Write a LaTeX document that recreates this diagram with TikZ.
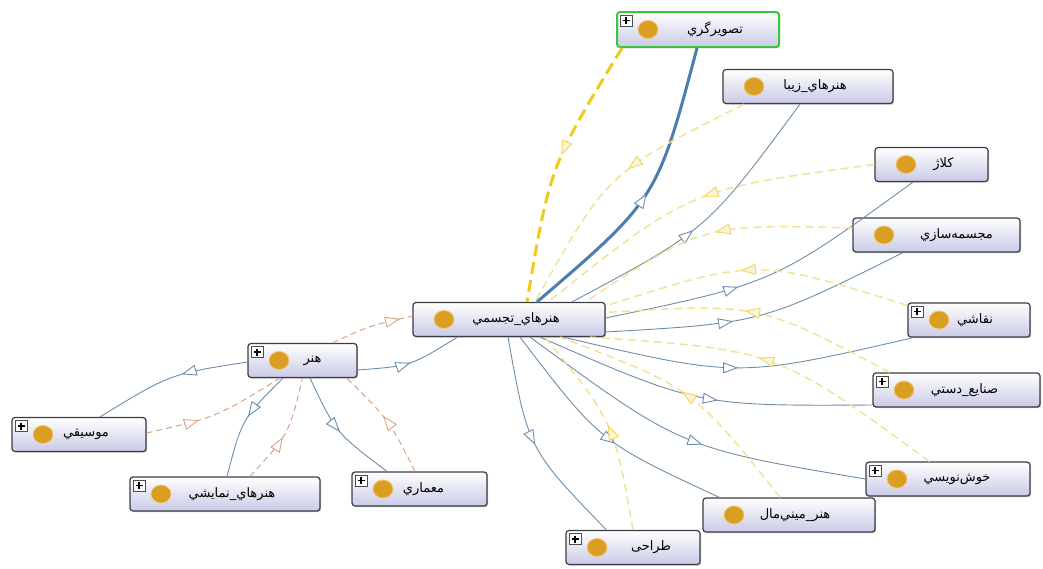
\documentclass[tikz,border=0pt]{standalone}
\usepackage{fontspec}
\newfontfamily\arabicfont[Script=Arabic]{DejaVu Sans}
\TeXXeTstate=1
\usetikzlibrary{arrows.meta}
\usetikzlibrary{calc}
\usetikzlibrary{decorations.markings}
\usetikzlibrary{shadows}

\definecolor{boxline}{HTML}{3C3C46}
\definecolor{boxfill}{HTML}{C9CAE6}
\definecolor{dotfill}{HTML}{D99E22}
\definecolor{dotline}{HTML}{F0C878}
\definecolor{selgreen}{HTML}{3DC43D}
\definecolor{subline}{HTML}{6C8DAA}
\definecolor{subthick}{HTML}{4B7DAD}
\definecolor{relline}{HTML}{F0E393}
\definecolor{relthick}{HTML}{ECCB1C}
\definecolor{hasline}{HTML}{D8A386}

\newcommand{\clsdot}{\fill[dotfill, draw=dotline, line width=0.8pt] ($(path picture bounding box.west)+(31,0)$) ellipse (10pt and 9pt);}
\newcommand{\clsplus}{%
  \draw[black!70, fill=white, line width=0.6pt, sharp corners] ($(path picture bounding box.north west)+(3,3)$) rectangle ++(12,11);
  \draw[black, line width=1.1pt, sharp corners] ($(path picture bounding box.north west)+(5.5,8.5)$) -- ++(7,0) ($(path picture bounding box.north west)+(9,5)$) -- ++(0,7);}

\tikzset{
  cls/.style={draw=boxline, line width=1.2pt, rounded corners=3pt, top color=white, bottom color=boxfill,
    minimum height=34pt, inner sep=0pt, font=\arabicfont\fontsize{13}{15}\selectfont,
    drop shadow={shadow xshift=1.2pt, shadow yshift=-1.2pt, opacity=0.45}, path picture={\clsdot}},
  clsplus/.style={cls, path picture={\clsdot\clsplus}},
  subarc/.style={draw=subline, line width=0.9pt, postaction={decorate},
    decoration={markings, mark=at position #1 with {\arrow[subline, solid, line width=0.9pt]{Triangle[length=15pt, width=11pt, fill=white]}}}},
  subarc/.default=0.5,
  subbold/.style={subarc=#1, draw=subthick, line width=3pt},
  relarc/.style={draw=relline, line width=1.5pt, dash pattern=on 8pt off 5pt, postaction={decorate},
    decoration={markings, mark=at position #1 with {\arrow[relthick!75, solid, line width=0.9pt]{Triangle[length=15pt, width=11pt, fill=relline!35]}}}},
  relarc/.default=0.5,
  relbold/.style={relarc=#1, draw=relthick, line width=3pt, dash pattern=on 12pt off 6pt},
  hasarc/.style={draw=hasline, line width=1pt, dash pattern=on 6pt off 4pt, postaction={decorate},
    decoration={markings, mark=at position #1 with {\arrow[hasline, solid, line width=0.9pt]{Triangle[length=15pt, width=11pt, fill=white]}}}},
  hasarc/.default=0.5
}

\begin{document}
\begin{tikzpicture}[x=1pt, y=-1pt]
        \useasboundingbox (0,0) rectangle (1043,568);
        \node[clsplus, draw=selgreen, line width=2pt, minimum width=162pt, minimum height=35pt] (tasvir) at (698,29.5) {\hspace*{34pt}\beginR تصويرگري\endR};
        \node[cls, minimum width=170pt] (ziba) at (808,86.5) {\hspace*{14pt}\beginR هنرهاي\_زيبا\endR};
        \node[cls, minimum width=113pt] (kolaj) at (931.5,164.5) {\hspace*{24pt}\beginR كلاژ\endR};
        \node[cls, minimum width=167pt] (mojasame) at (936.5,235) {\hspace*{40pt}\beginR مجسمه^^^^200cسازي\endR};
        \node[clsplus, minimum width=122pt] (naghashi) at (969,320) {\hspace*{12pt}\beginR نقاشي\endR};
        \node[clsplus, minimum width=167pt] (sanaye) at (956.5,390) {\hspace*{16pt}\beginR صنايع\_دستي\endR};
        \node[clsplus, minimum width=164pt] (khosh) at (948,479) {\hspace*{18pt}\beginR خوش^^^^200cنويسي\endR};
        \node[cls, minimum width=172pt] (minimal) at (789,515) {\hspace*{12pt}\beginR هنر\_ميني^^^^200cمال\endR};
        \node[clsplus, minimum width=134pt] (tarahi) at (633,547.5) {\hspace*{36pt}\beginR طراحی\endR};
        \node[cls, minimum width=192pt] (tajasomi) at (509,319.5) {\hspace*{14pt}\beginR هنرهاي\_تجسمي\endR};
        \node[clsplus, minimum width=109pt] (honar) at (302.5,360.5) {\hspace*{20pt}\beginR هنر\endR};
        \node[clsplus, minimum width=134pt] (musighi) at (79,434.5) {\hspace*{14pt}\beginR موسيقي\endR};
        \node[clsplus, minimum width=190pt] (namayeshi) at (225,494) {\hspace*{14pt}\beginR هنرهاي\_نمايشي\endR};
        \node[clsplus, minimum width=135pt] (memari) at (419.5,489) {\hspace*{8pt}\beginR معماري\endR};

        \draw[subbold=0.5] ($(tajasomi.north)+(28,0)$) .. controls (657,199) .. ($(tasvir.south)+(-1,0)$);
        \draw[relbold=0.45] ($(tasvir.south)+(-76,0)$) .. controls (550,166) .. ($(tajasomi.north)+(18,0)$);
        \draw[subarc=0.46] ($(tajasomi.north)+(63,0)$) .. controls (707,230) .. ($(ziba.south)+(-8,0)$);
        \draw[relarc=0.45] ($(ziba.south west)+(22,0)$) .. controls (608,172) .. ($(tajasomi.north)+(26,0)$);
        \draw[subarc=0.4] ($(tajasomi.east)+(0,-1.5)$) .. controls (774,283) .. ($(kolaj.south)+(-18.5,0)$);
        \draw[relarc=0.48] (kolaj.west) .. controls (690,189) .. ($(tajasomi.north)+(39,0)$);
        \draw[subarc=0.41] ($(tajasomi.east)+(0,12.5)$) .. controls (762,323) .. ($(mojasame.south)+(-33.5,0)$);
        \draw[relarc=0.48] ($(mojasame.west)+(0,-7)$) .. controls (703,224) .. ($(tajasomi.north)+(76,0)$);
        \draw[subarc=0.5] ($(tajasomi.south)+(54,0)$) .. controls (738,378) .. ($(naghashi.south west)+(6,0)$);
        \draw[relarc=0.55] ($(naghashi.north west)+(0,3)$) .. controls (756,258) .. ($(tajasomi.north east)+(0,4)$);
        \draw[subarc=0.55] ($(tajasomi.south)+(31,0)$) .. controls (698,406) .. ($(sanaye.west)+(0,15)$);
        \draw[relarc=0.53] ($(sanaye.north west)+(17,0)$) .. controls (759,303) .. ($(tajasomi.east)+(0,-7)$);
        \draw[subarc=0.55] ($(tajasomi.south)+(21,0)$) .. controls (681,448) .. (khosh.west);
        \draw[relarc=0.54] ($(khosh.north west)+(64,0)$) .. controls (777,350) .. ($(tajasomi.south)+(81,0)$);
        \draw[subarc=0.55] ($(tajasomi.south)+(11,0)$) .. controls (600,442) .. ($(minimal.north west)+(17,0)$);
        \draw[relarc=0.52] ($(minimal.north)+(-9,0)$) .. controls (693,388) .. ($(tajasomi.south)+(51,0)$);
        \draw[subarc=0.5] ($(tajasomi.south)+(-1,0)$) .. controls (528,449) .. ($(tarahi.north west)+(41,0)$);
        \draw[relarc=0.5] (tarahi.north) .. controls (614,422) .. ($(tajasomi.south)+(36,0)$);

        \draw[subarc=0.5] ($(honar.east)+(0,9.5)$) .. controls (411,366) .. ($(tajasomi.south west)+(45,0)$);
        \draw[hasarc=0.85] ($(honar.north)+(30,0)$) .. controls (369,326) .. ($(tajasomi.west)+(0,-3.5)$);
        \draw[subarc=0.42] ($(honar.west)+(0,1.5)$) .. controls (170,374) .. ($(musighi.north)+(21,0)$);
        \draw[hasarc=0.37] ($(musighi.east)+(0,-1.5)$) .. controls (217,417) .. ($(honar.south)+(-22.5,0)$);
        \draw[subarc=0.45] ($(honar.south)+(-19.5,0)$) .. controls (242,419) .. ($(namayeshi.north)+(2,0)$);
        \draw[hasarc=0.45] ($(namayeshi.north)+(25,0)$) .. controls (289,434) .. (honar.south);
        \draw[subarc=0.5] ($(honar.south)+(7.5,0)$) .. controls (336,433) .. ($(memari.north)+(-32.5,0)$);
        \draw[hasarc=0.55] ($(memari.north)+(-4.5,0)$) .. controls (389,420) .. ($(honar.south)+(44.5,0)$);
\end{tikzpicture}
\end{document}
